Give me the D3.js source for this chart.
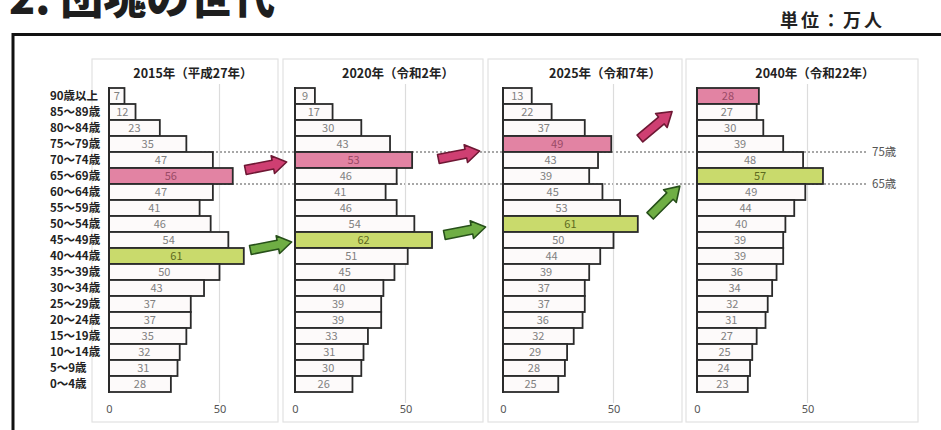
<!DOCTYPE html>
<html>
<head>
<meta charset="utf-8">
<script src="https://cdn.jsdelivr.net/npm/d3@7"></script>
<style>
  html, body { margin: 0; padding: 0; background: #fff; }
  svg { display: block; font-family: "Noto Sans CJK JP", "Noto Sans", sans-serif; }
</style>
</head>
<body>
<svg id="chart" width="941" height="430"></svg>
<script>
// Age groups, top (oldest) to bottom (youngest)
const ages = ["90歳以上","85～89歳","80～84歳","75～79歳","70～74歳","65～69歳","60～64歳",
  "55～59歳","50～54歳","45～49歳","40～44歳","35～39歳","30～34歳","25～29歳",
  "20～24歳","15～19歳","10～14歳","5～9歳","0～4歳"];

// Population by age group (万人)
const pop2015 = [7,12,23,35,47,56,47,41,46,54,61,50,43,37,37,35,32,31,28];
const pop2020 = [9,17,30,43,53,46,41,46,54,62,51,45,40,39,39,33,31,30,26];
const pop2025 = [13,22,37,49,43,39,45,53,61,50,44,39,37,37,36,32,29,28,25];
const pop2040 = [28,27,30,39,48,57,49,44,40,39,39,36,34,32,31,27,25,24,23];

const panelTitles = ["2015年（平成27年）","2020年（令和2年）","2025年（令和7年）","2040年（令和22年）"];
const seriesList = [pop2015, pop2020, pop2025, pop2040];

// Row index of the 団塊の世代 cohort (pink) and 団塊ジュニア cohort (green) in each year
const pinkRow  = [5, 4, 3, 0];
const greenRow = [10, 9, 8, 5];

const tickValues = [0, 50];
const ageMarks = ["75歳", "65歳"];

const svg = d3.select("#chart");

// Page heading and unit
svg.append("text").attr("x", 9).attr("y", 14)
  .attr("font-size", 43).attr("font-weight", 900).attr("fill", "#1e1e1e")
  .text("2. 団塊の世代");
svg.append("text").attr("x", 885).attr("y", 27).attr("text-anchor", "end")
  .attr("font-size", 18).attr("font-weight", 700).attr("fill", "#222")
  .attr("letter-spacing", 3)
  .text("単位：万人");

// Outer frame
svg.append("path")
  .attr("d", "M13,440 L13,34.5 L950,34.5")
  .attr("fill", "none").attr("stroke", "#111").attr("stroke-width", 3);

// Panel geometry
const panels = [
  {left: 92,  right: 278, zero: 109, title: 193},
  {left: 283, right: 483, zero: 295, title: 398},
  {left: 488, right: 682, zero: 503, title: 605},
  {left: 686, right: 918, zero: 697, title: 815}
];
const plotTop = 88, plotBottom = 392;
const y = d3.scaleBand().domain(ages).range([plotTop, plotBottom]).padding(0);

// Panel boxes
panels.forEach(p => {
  svg.append("rect").attr("x", p.left).attr("y", 59)
    .attr("width", p.right - p.left).attr("height", 363)
    .attr("fill", "none").attr("stroke", "#e2e2e2").attr("stroke-width", 1.2);
});

// Dotted boundary lines at 75 and 65 years
const boundaryY = [y("75～79歳") + y.bandwidth(), y("65～69歳") + y.bandwidth()];
const markG = svg.append("g");
boundaryY.forEach((by, i) => {
  markG.append("line").attr("x1", 200).attr("x2", 867)
    .attr("y1", by).attr("y2", by)
    .attr("stroke", "#8a8a8a").attr("stroke-width", 1.6)
    .attr("stroke-dasharray", "2,2");
  markG.append("text").attr("x", 872).attr("y", by + 4)
    .attr("font-size", 11.5).attr("fill", "#555").text(ageMarks[i]);
});

// Age labels
svg.append("g").selectAll("text").data(ages).join("text")
  .attr("x", 50).attr("y", d => y(d) + y.bandwidth() / 2 + 4)
  .attr("font-size", 11.5).attr("font-weight", 700).attr("fill", "#222")
  .text(d => d);

panels.forEach((p, i) => {
  const data = seriesList[i];
  const x = d3.scaleLinear().domain([0, 50]).range([p.zero, p.zero + 110.5]);
  const g = svg.append("g");

  // Title
  g.append("text").attr("x", p.title).attr("y", 78).attr("text-anchor", "middle")
    .attr("font-size", 12.5).attr("font-weight", 700).attr("fill", "#222")
    .text(panelTitles[i]);

  // Gridline at 50
  g.append("line").attr("x1", x(50)).attr("x2", x(50))
    .attr("y1", 84).attr("y2", 403)
    .attr("stroke", "#dcdcdc").attr("stroke-width", 1.2);

  // Bars
  const rows = ages.map((a, k) => ({age: a, v: data[k], k}));
  g.selectAll("rect.bar").data(rows).join("rect")
    .attr("class", "bar")
    .attr("x", x(0)).attr("y", d => y(d.age))
    .attr("width", d => x(d.v) - x(0)).attr("height", y.bandwidth())
    .attr("fill", d => d.k === pinkRow[i] ? "#e283a3" : d.k === greenRow[i] ? "#c9da6c" : "#fdfafa")
    .attr("stroke", "#2a2a2a").attr("stroke-width", 1.8);

  // Value labels
  g.selectAll("text.val").data(rows).join("text")
    .attr("class", "val")
    .attr("x", d => (x(0) + x(d.v)) / 2)
    .attr("y", d => y(d.age) + y.bandwidth() / 2 + 4)
    .attr("text-anchor", "middle").attr("font-size", 11)
    .attr("fill", d => (d.k === pinkRow[i] ? "#9a4a66" : d.k === greenRow[i] ? "#5d6a1e" : "#808080"))
    .text(d => d.v);

  // Axis (labels only)
  const axis = d3.axisBottom(x).tickValues(tickValues).tickSize(0).tickPadding(0);
  const ag = g.append("g").attr("transform", `translate(0,405)`).call(axis);
  ag.select(".domain").remove();
  ag.selectAll("text").attr("font-size", 11).attr("fill", "#555")
    .attr("font-family", "'Noto Sans', sans-serif").attr("dy", "0.71em");

  // Zero axis line
  g.append("line").attr("x1", x(0)).attr("x2", x(0))
    .attr("y1", plotTop - 1).attr("y2", plotBottom + 1)
    .attr("stroke", "#2a2a2a").attr("stroke-width", 2);
});

// Block arrows linking each cohort to the next panel
function arrowPath(len, shaft, head, headLen) {
  const h = shaft / 2, H = head / 2, b = len - headLen;
  return `M0,${-h} L${b},${-h} L${b},${-H} L${len},0 L${b},${H} L${b},${h} L0,${h} Z`;
}
const arrows = [
  {cx: 266, cy: 166, a: -11, c: "pink"},
  {cx: 271, cy: 246, a: -11, c: "green"},
  {cx: 459, cy: 155, a: -11, c: "pink"},
  {cx: 465, cy: 231, a: -11, c: "green"},
  {cx: 656, cy: 125, a: -40, c: "pink"},
  {cx: 665, cy: 201, a: -45, c: "green"}
];
const arrowColors = {
  pink:  {fill: "#cf3f72", stroke: "#6e1834"},
  green: {fill: "#6fae44", stroke: "#27501a"}
};
svg.append("g").selectAll("path").data(arrows).join("path")
  .attr("d", arrowPath(42, 9, 18, 14))
  .attr("transform", d => `translate(${d.cx},${d.cy}) rotate(${d.a}) translate(-21,0)`)
  .attr("fill", d => arrowColors[d.c].fill)
  .attr("stroke", d => arrowColors[d.c].stroke)
  .attr("stroke-width", 1.6).attr("stroke-linejoin", "round");
</script>
</body>
</html>
